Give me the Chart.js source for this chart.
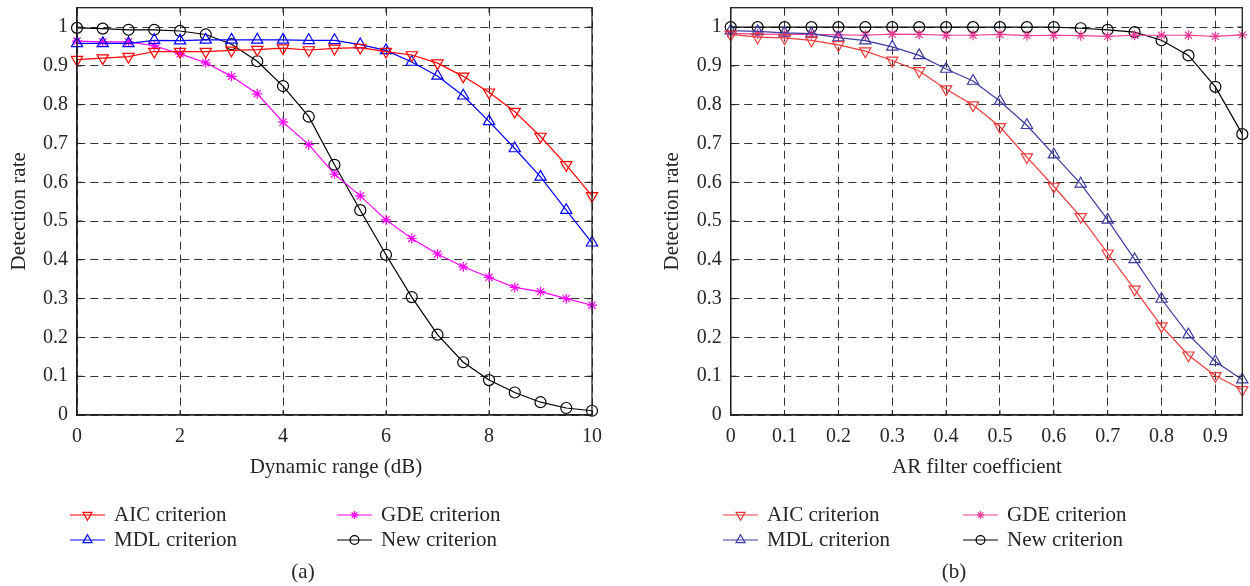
<!DOCTYPE html>
<html>
<head>
<meta charset="utf-8">
<script src="https://cdn.jsdelivr.net/npm/chart.js@4/dist/chart.umd.min.js"></script>
<style>
  body { margin: 0; background: #fff; }
  .panel { position: absolute; top: 0; width: 625px; height: 586px; }
</style>
</head>
<body>
<div class="panel" style="left:0"><canvas id="chartA" width="625" height="586"></canvas></div>
<div class="panel" style="left:625px"><canvas id="chartB" width="625" height="586"></canvas></div>
<script>
// (a) detection rate vs dynamic range
var dynRange = [0, 0.5, 1, 1.5, 2, 2.5, 3, 3.5, 4, 4.5, 5, 5.5, 6, 6.5, 7, 7.5, 8, 8.5, 9, 9.5, 10];
var aicA = [0.916, 0.920, 0.924, 0.937, 0.937, 0.937, 0.940, 0.942, 0.946, 0.941, 0.945, 0.947, 0.937, 0.928, 0.907, 0.873, 0.832, 0.782, 0.718, 0.645, 0.565];
var mdlA = [0.958, 0.958, 0.958, 0.966, 0.965, 0.967, 0.967, 0.967, 0.967, 0.966, 0.966, 0.955, 0.940, 0.910, 0.874, 0.823, 0.757, 0.687, 0.614, 0.528, 0.444];
var gdeA = [0.964, 0.962, 0.962, 0.952, 0.931, 0.908, 0.873, 0.828, 0.755, 0.697, 0.621, 0.565, 0.503, 0.455, 0.415, 0.382, 0.355, 0.329, 0.318, 0.300, 0.283];
var newA = [0.998, 0.996, 0.993, 0.993, 0.990, 0.981, 0.956, 0.912, 0.848, 0.769, 0.645, 0.528, 0.413, 0.304, 0.207, 0.136, 0.090, 0.058, 0.033, 0.018, 0.011];

// (b) detection rate vs AR filter coefficient
var arCoef = [0, 0.05, 0.1, 0.15, 0.2, 0.25, 0.3, 0.35, 0.4, 0.45, 0.5, 0.55, 0.6, 0.65, 0.7, 0.75, 0.8, 0.85, 0.9, 0.95];
var aicB = [0.981, 0.974, 0.972, 0.966, 0.954, 0.938, 0.914, 0.887, 0.840, 0.799, 0.743, 0.665, 0.589, 0.511, 0.417, 0.324, 0.229, 0.154, 0.101, 0.065];
var mdlB = [0.991, 0.989, 0.985, 0.983, 0.973, 0.965, 0.949, 0.927, 0.892, 0.861, 0.809, 0.747, 0.671, 0.596, 0.503, 0.401, 0.299, 0.207, 0.138, 0.091];
var gdeB = [0.984, 0.982, 0.981, 0.981, 0.980, 0.979, 0.982, 0.981, 0.979, 0.979, 0.981, 0.978, 0.979, 0.978, 0.976, 0.979, 0.979, 0.979, 0.976, 0.980];
var newB = [1.0, 1.0, 1.0, 1.0, 1.0, 1.0, 1.0, 1.0, 1.0, 1.0, 1.0, 1.0, 1.0, 0.997, 0.993, 0.987, 0.966, 0.927, 0.846, 0.724];

var seriesNames = ['AIC criterion', 'MDL criterion', 'GDE criterion', 'New criterion'];

var FONT = '"Liberation Serif", "DejaVu Serif", serif';
var TEXT = '#262626';

function pts(xs, ys) {
  return xs.map(function (x, i) { return {x: x, y: ys[i]}; });
}

function serie(label, xs, ys, color, style, radius, rot) {
  return {
    label: label,
    data: pts(xs, ys),
    borderColor: color,
    borderWidth: 1.2,
    pointStyle: style,
    pointRotation: rot || 0,
    pointRadius: radius,
    pointBorderWidth: 1.2,
    pointBorderColor: color,
    pointBackgroundColor: 'rgba(0,0,0,0)',
    tension: 0,
    clip: false
  };
}

function fmt(v) { return String(+v.toFixed(2)); }

// frame, inner ticks, x title, legend and caption
var panelPlugin = {
  id: 'panel',
  afterDraw: function (chart, args, opt) {
    var ctx = chart.ctx, a = chart.chartArea;
    var xs = chart.scales.x, ys = chart.scales.y;
    ctx.save();
    ctx.strokeStyle = '#222';
    ctx.lineWidth = 1.3;
    ctx.strokeRect(a.left, a.top, a.right - a.left, a.bottom - a.top);
    ctx.beginPath();
    xs.ticks.forEach(function (t) {
      var px = xs.getPixelForValue(t.value);
      ctx.moveTo(px, a.bottom); ctx.lineTo(px, a.bottom - 5);
      ctx.moveTo(px, a.top); ctx.lineTo(px, a.top + 5);
    });
    ys.ticks.forEach(function (t) {
      var py = ys.getPixelForValue(t.value);
      ctx.moveTo(a.left, py); ctx.lineTo(a.left + 5, py);
      ctx.moveTo(a.right, py); ctx.lineTo(a.right - 5, py);
    });
    ctx.lineWidth = 1;
    ctx.stroke();

    ctx.fillStyle = TEXT;
    ctx.font = '21px ' + FONT;
    ctx.textAlign = 'center';
    ctx.textBaseline = 'middle';
    ctx.fillText(opt.xTitle, opt.xTitleX, 467);
    ctx.fillText(opt.caption, opt.captionX, 572);

    chart.data.datasets.forEach(function (ds, i) {
      var x0 = opt.cols[Math.floor(i / 2)];
      var y0 = opt.rows[i % 2];
      ctx.strokeStyle = ds.borderColor;
      ctx.lineWidth = 1.2;
      ctx.beginPath();
      ctx.moveTo(x0, y0); ctx.lineTo(x0 + 35, y0);
      ctx.stroke();
      ctx.fillStyle = 'rgba(0,0,0,0)';
      Chart.helpers.drawPoint(ctx, {
        pointStyle: ds.pointStyle,
        rotation: ds.pointRotation,
        radius: ds.pointRadius * 0.8,
        borderWidth: 1.2
      }, x0 + 17.5, y0);
      ctx.fillStyle = TEXT;
      ctx.textAlign = 'left';
      ctx.fillText(ds.label, x0 + 44, y0);
    });
    ctx.restore();
  }
};

function makeChart(id, xs, sets, xMax, xStep, pad, yWidth, panelOpt) {
  return new Chart(document.getElementById(id), {
    type: 'line',
    data: {datasets: sets},
    options: {
      responsive: false,
      animation: false,
      layout: {padding: pad},
      plugins: {legend: {display: false}, tooltip: {enabled: false}, panel: panelOpt},
      scales: {
        x: {
          type: 'linear',
          min: 0,
          max: xMax,
          afterFit: function (s) { s.height = 65; s.paddingLeft = 0; s.paddingRight = 0; },
          grid: {color: '#333', lineWidth: 1, drawTicks: false},
          border: {dash: [8, 5], color: '#222', width: 1.3},
          ticks: {stepSize: xStep, includeBounds: false, padding: 10, color: TEXT,
                  font: {family: FONT, size: 20}, callback: fmt, maxRotation: 0}
        },
        y: {
          min: 0,
          max: 1.05,
          afterFit: function (s) { s.width = yWidth; s.paddingTop = 0; s.paddingBottom = 0; },
          grid: {color: '#333', lineWidth: 1, drawTicks: false},
          border: {dash: [8, 5], color: '#222', width: 1.3},
          ticks: {stepSize: 0.1, includeBounds: false, padding: 9, color: TEXT,
                  font: {family: FONT, size: 20}, callback: fmt},
          title: {display: true, text: 'Detection rate', color: TEXT,
                  font: {family: FONT, size: 21}, padding: {top: 7, bottom: 0}}
        }
      }
    },
    plugins: [panelPlugin]
  });
}

makeChart('chartA', dynRange, [
  serie(seriesNames[0], dynRange, aicA, '#ff0000', 'triangle', 6.5, 180),
  serie(seriesNames[1], dynRange, mdlA, '#0000ff', 'triangle', 6.5),
  serie(seriesNames[2], dynRange, gdeA, '#ff00ff', 'star', 5),
  serie(seriesNames[3], dynRange, newA, '#000000', 'circle', 5.5)
], 10, 2, {left: 0, right: 33, top: 7, bottom: 106}, 77, {
  xTitle: 'Dynamic range (dB)', xTitleX: 336,
  caption: '(a)', captionX: 303,
  cols: [70, 337], rows: [515, 540]
});

makeChart('chartB', arCoef, [
  serie(seriesNames[0], arCoef, aicB, '#ee3b3b', 'triangle', 6.5, 180),
  serie(seriesNames[1], arCoef, mdlB, '#3b3ba0', 'triangle', 6.5),
  serie(seriesNames[2], arCoef, gdeB, '#ee3d96', 'star', 5),
  serie(seriesNames[3], arCoef, newB, '#000000', 'circle', 5.5)
], 0.95, 0.1, {left: 28, right: 4.7, top: 7, bottom: 106}, 77.7, {
  xTitle: 'AR filter coefficient', xTitleX: 352,
  caption: '(b)', captionX: 329,
  cols: [98, 338], rows: [515, 540]
});
</script>
</body>
</html>
